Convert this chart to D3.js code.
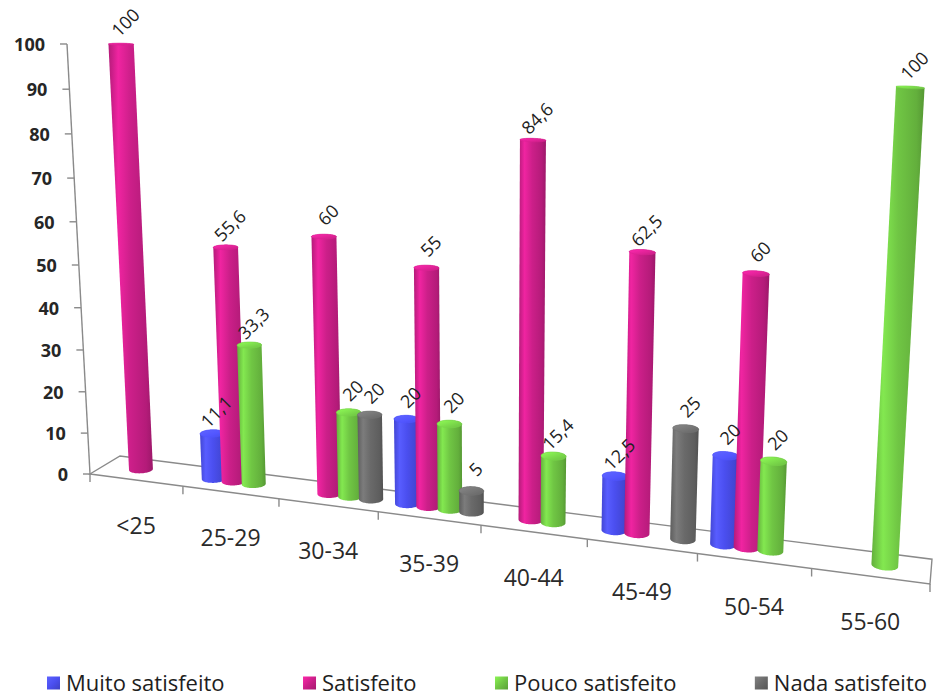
<!DOCTYPE html>
<html>
<head>
<meta charset="utf-8">
<script src="https://cdn.jsdelivr.net/npm/d3@7"></script>
<style>
  html, body { margin: 0; padding: 0; background: #ffffff; }
  svg { display: block; }
</style>
</head>
<body>
<svg id="chart" width="933" height="698"></svg>
<script>
// ---- data -------------------------------------------------------------
const categories = ["<25", "25-29", "30-34", "35-39", "40-44", "45-49", "50-54", "55-60"];
const seriesNames = ["Muito satisfeito", "Satisfeito", "Pouco satisfeito", "Nada satisfeito"];
const muitoSatisfeito = [null, 11.1, null, 20, null, 12.5, 20, null];
const satisfeito      = [100, 55.6, 60, 55, 84.6, 62.5, 60, null];
const poucoSatisfeito = [null, 33.3, 20, 20, 15.4, null, 20, 100];
const nadaSatisfeito  = [null, null, 20, 5, null, 25, null, null];
const valueTicks = [0, 10, 20, 30, 40, 50, 60, 70, 80, 90, 100];
const seriesColors = ["#4b4ff0", "#cc1f89", "#70c644", "#6a6a6a"];

const seriesValues = [muitoSatisfeito, satisfeito, poucoSatisfeito, nadaSatisfeito];

// ---- perspective camera --------------------------------------------------
// World space: u runs along the categories (0..8), v is height (0..1),
// d is depth into the page (0 = front of the floor, 1 = back).
function project(u, v, d) {
  const w = 1 - 0.01615 * u - 0.0543 * v + 0.0348 * d;
  return [
    (90 + 89.98 * u - 26.64 * v + 34.17 * d) / w,
    (474 + 4.32 * u - 432.4 * v - 2.13 * d) / w
  ];
}

// ---- scales -------------------------------------------------------------
const x0 = d3.scaleBand().domain(categories).range([0, categories.length]);
const x1 = d3.scaleBand().domain(seriesNames).range([0, 1])
  .paddingInner(0).paddingOuter(0.358);
const yScale = d3.scaleLinear().domain([0, 100]).range([0, 1]);
const color = d3.scaleOrdinal().domain(seriesNames).range(seriesColors);

const ptBR = d3.formatLocale({ decimal: ",", thousands: ".", grouping: [3], currency: ["R$", ""] });
const fmt = ptBR.format("~g");

const svg = d3.select("#chart");
const defs = svg.append("defs");

// cylinder shading per series
seriesNames.forEach((s, i) => {
  const c = d3.color(color(s));
  const g = defs.append("linearGradient").attr("id", "body" + i)
    .attr("x1", 0).attr("x2", 1).attr("y1", 0).attr("y2", 0);
  [[0, c.darker(0.35)], [0.22, c.brighter(0.45)], [0.5, c], [0.85, c.darker(0.35)], [1, c.darker(0.75)]]
    .forEach(([o, col]) => g.append("stop").attr("offset", o).attr("stop-color", col.formatHex()));
  const cap = defs.append("linearGradient").attr("id", "cap" + i)
    .attr("x1", 0).attr("x2", 1).attr("y1", 0).attr("y2", 1);
  [[0, c.brighter(0.7)], [0.6, c.brighter(0.25)], [1, c.darker(0.1)]]
    .forEach(([o, col]) => cap.append("stop").attr("offset", o).attr("stop-color", col.formatHex()));
  const leg = defs.append("linearGradient").attr("id", "leg" + i)
    .attr("x1", 0).attr("x2", 1).attr("y1", 0).attr("y2", 1);
  [[0, c.brighter(0.6)], [0.5, c], [1, c.darker(0.6)]]
    .forEach(([o, col]) => leg.append("stop").attr("offset", o).attr("stop-color", col.formatHex()));
});

const line = d3.line();
const axisColor = "#8a8a8a";
const nCat = categories.length;

// ---- floor --------------------------------------------------------------
svg.append("path")
  .attr("d", line([project(0, 0, 0), project(nCat, 0, 0), project(nCat, 0, 1), project(0, 0, 1)]) + "Z")
  .attr("fill", "none").attr("stroke", axisColor).attr("stroke-width", 1.4);

// category boundary ticks on the front edge
d3.range(nCat + 1).forEach(i => {
  const p = project(i, 0, 0);
  svg.append("line")
    .attr("x1", p[0]).attr("y1", p[1]).attr("x2", p[0]).attr("y2", p[1] + 8)
    .attr("stroke", axisColor).attr("stroke-width", 1.4);
});

// ---- value axis -----------------------------------------------------------
{
  const a = project(0, 0, 0), b = project(0, 1, 0);
  svg.append("line").attr("x1", a[0]).attr("y1", a[1]).attr("x2", b[0]).attr("y2", b[1])
    .attr("stroke", axisColor).attr("stroke-width", 1.4);
}
const tickG = svg.append("g");
valueTicks.forEach(t => {
  const p = project(0, yScale(t), 0);
  tickG.append("line")
    .attr("x1", p[0] - 7).attr("y1", p[1]).attr("x2", p[0]).attr("y2", p[1])
    .attr("stroke", axisColor).attr("stroke-width", 1.4);
  tickG.append("text")
    .attr("x", p[0] - 22).attr("y", p[1])
    .attr("text-anchor", "end").attr("dominant-baseline", "central")
    .attr("font-family", "'Open Sans', sans-serif").attr("font-weight", 700)
    .attr("font-size", 18).attr("fill", "#262626")
    .text(t);
});

// category labels
categories.forEach((c, i) => {
  const p = project(x0(c) + x0.bandwidth() / 2, 0, 0);
  svg.append("text")
    .attr("x", p[0]).attr("y", p[1] + 45)
    .attr("text-anchor", "middle").attr("dominant-baseline", "central")
    .attr("font-family", "'Open Sans', sans-serif").attr("font-size", 23)
    .attr("fill", "#2a2a2a")
    .text(c);
});

// ---- cylinders ----------------------------------------------------------
const bars = [];
seriesNames.forEach((s, si) => {
  categories.forEach((c, ci) => {
    const v = seriesValues[si][ci];
    if (v == null) return;
    bars.push({ series: s, si, category: c, value: v, u: x0(c) + x1(s) + x1.bandwidth() / 2 });
  });
});
bars.sort((a, b) => a.u - b.u);

const rx = x1.bandwidth() / 2 * 1.08;
const rz = 0.2;
const dc = 0.5;
const ring = d3.range(0, 2 * Math.PI, Math.PI / 36);

const barG = svg.append("g");
bars.forEach(bar => {
  const h = yScale(bar.value);
  const base = ring.map(t => project(bar.u + rx * Math.cos(t), 0, dc + rz * Math.sin(t)));
  const top = ring.map(t => project(bar.u + rx * Math.cos(t), h, dc + rz * Math.sin(t)));
  const hull = d3.polygonHull(base.concat(top));
  const g = barG.append("g");
  g.append("path").attr("d", line(hull) + "Z").attr("fill", `url(#body${bar.si})`);
  g.append("path").attr("d", line(top) + "Z").attr("fill", `url(#cap${bar.si})`)
    .attr("stroke", d3.color(color(bar.series)).brighter(0.2).formatHex()).attr("stroke-width", 0.6);
  bar.top = project(bar.u, h, dc);
});

// value labels
const labelG = svg.append("g");
bars.forEach(bar => {
  const [px, py] = bar.top;
  labelG.append("text")
    .attr("transform", `translate(${px + 4},${py - 22}) rotate(-45)`)
    .attr("text-anchor", "middle").attr("dominant-baseline", "central")
    .attr("font-family", "'Open Sans', sans-serif").attr("font-size", 18)
    .attr("fill", "#222222")
    .text(fmt(bar.value));
});

// ---- legend ---------------------------------------------------------------
const legendY = 682;
const legendLeft = 47, legendRight = 927;
const legG = svg.append("g");
const items = seriesNames.map((s, i) => {
  const g = legG.append("g");
  g.append("rect").attr("width", 13).attr("height", 13).attr("y", legendY - 5.5)
    .attr("fill", `url(#leg${i})`);
  const t = g.append("text").attr("x", 19).attr("y", legendY)
    .attr("dominant-baseline", "central")
    .attr("font-family", "'Open Sans', sans-serif").attr("font-size", 22)
    .attr("fill", "#1e1e1e").text(s);
  return { g, w: 19 + t.node().getComputedTextLength() };
});
const gap = (legendRight - legendLeft - d3.sum(items, d => d.w)) / (items.length - 1);
let cx = legendLeft;
items.forEach(it => { it.g.attr("transform", `translate(${cx},0)`); cx += it.w + gap; });
</script>
</body>
</html>
